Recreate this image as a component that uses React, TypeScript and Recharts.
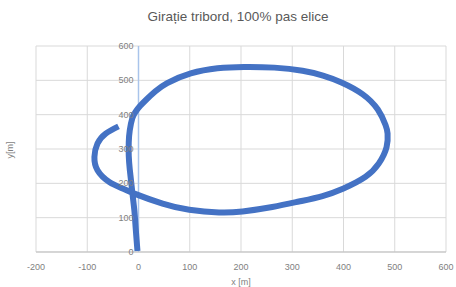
import { LineChart, Line, XAxis, YAxis, CartesianGrid, ReferenceLine } from 'recharts';

const xs = [-2, -4, -6, -8, -11, -14, -17, -19, -19, -17, -12, -6, 3, 16, 33, 56, 102, 154, 206, 265, 320, 360, 396, 437, 467, 482, 486, 484, 469, 443, 400, 359, 313, 261, 203, 157, 99, 47, -8, -31, -57, -80, -86, -80, -64, -39];
const ys = [3, 40, 80, 120, 160, 200, 240, 280, 320, 355, 390, 408, 425, 445, 468, 492, 520, 535, 539, 537, 528, 514, 494, 460, 415, 370, 345, 305, 258, 219, 185, 163, 147, 131, 118, 115, 123, 141, 170, 185, 204, 238, 277, 316, 345, 366];
const xTicks = [-200, -100, 0, 100, 200, 300, 400, 500, 600];
const yTicks = [0, 100, 200, 300, 400, 500, 600];

const data = xs.map((x, i) => ({ x, y: ys[i] }));

const W = 456;
const H = 287;
const Y_W = 36;
const M = { top: 46, right: 10, bottom: 5, left: 0 };
const font = 'Liberation Sans, Arial, sans-serif';

function YTick(props: any) {
  const plotW = W - Y_W - M.left - M.right;
  const zeroX = Y_W + ((0 - xTicks[0]) / (xTicks[xTicks.length - 1] - xTicks[0])) * plotW;
  return (
    <text x={zeroX - 5} y={props.y} dy={3} textAnchor="end" fontSize={9} fill="#7f7f7f" fontFamily={font}>
      {props.payload.value}
    </text>
  );
}

export default function App() {
  return (
    <div style={{ position: 'fixed', top: 0, left: 0, width: W, height: H, background: '#fff' }}>
      <LineChart width={W} height={H} data={data} margin={M}>
        <text x={238} y={21} textAnchor="middle" fontSize={13.5} fill="#595959" fontFamily={font}>
          Girație tribord, 100% pas elice
        </text>
        <CartesianGrid stroke="#d9d9d9" />
        <XAxis
          dataKey="x"
          type="number"
          domain={[-200, 600]}
          ticks={xTicks}
          axisLine={{ stroke: '#bfbfbf' }}
          tickLine={false}
          tick={{ fontSize: 9, fill: '#7f7f7f', fontFamily: font }}
          tickMargin={6}
          label={{ value: 'x [m]', position: 'insideBottom', offset: 0, dy: 3, fontSize: 9, fill: '#7f7f7f', fontFamily: font }}
        />
        <YAxis
          dataKey="y"
          type="number"
          domain={[0, 600]}
          ticks={yTicks}
          width={Y_W}
          axisLine={false}
          tickLine={false}
          tick={(p: any) => <YTick {...p} />}
        />
        <ReferenceLine x={0} stroke="#a9c4eb" strokeWidth={1.5} />
        <text x={13} y={150} transform="rotate(-90 13 150)" textAnchor="middle" fontSize={9} fill="#7f7f7f" fontFamily={font}>
          y[m]
        </text>
        <Line
          dataKey="y"
          type="natural"
          stroke="#4472c4"
          strokeWidth={6}
          dot={false}
          isAnimationActive={false}
        />
      </LineChart>
    </div>
  );
}
